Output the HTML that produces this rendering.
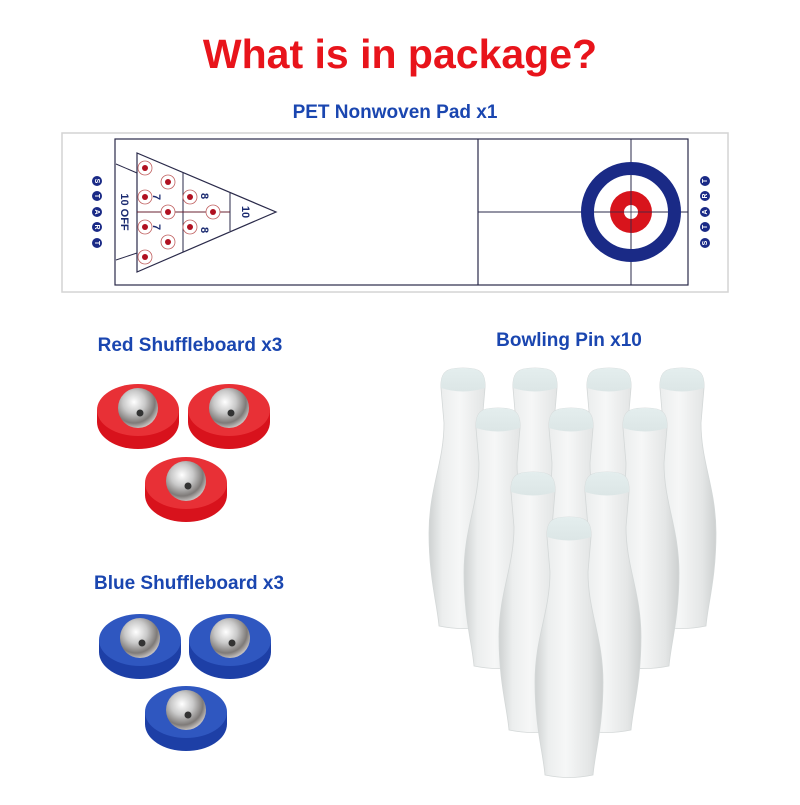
<!DOCTYPE html>
<html><head><meta charset="utf-8"><style>
body{margin:0;width:800px;height:800px;background:#fff;overflow:hidden;font-family:"Liberation Sans",sans-serif}
</style></head><body>
<svg width="800" height="800" viewBox="0 0 800 800" xmlns="http://www.w3.org/2000/svg">
<defs>
<linearGradient id="pg" x1="0" x2="1" y1="0" y2="0">
<stop offset="0" stop-color="#cfd2d2"/><stop offset="0.2" stop-color="#eceeee"/><stop offset="0.45" stop-color="#f6f7f7"/><stop offset="0.8" stop-color="#e4e6e6"/><stop offset="1" stop-color="#cdd0d0"/>
</linearGradient>
<linearGradient id="hg" x1="0" x2="0" y1="0" y2="1">
<stop offset="0" stop-color="#e4eeee"/><stop offset="1" stop-color="#dce6e6"/>
</linearGradient>
<radialGradient id="ball" cx="0.4" cy="0.35" r="0.7">
<stop offset="0" stop-color="#ffffff"/><stop offset="0.4" stop-color="#c9c9c9"/><stop offset="0.75" stop-color="#7e7a78"/><stop offset="1" stop-color="#d8d4d2"/>
</radialGradient>
<g id="pin">
<path d="M-22,20 C-23,2 -14,0 0,0 C14,0 23,2 22,20 L19,55 C19,95 34,120 34,165 C34,210 26,235 24,258 Q0,263 -24,258 C-26,235 -34,210 -34,165 C-34,120 -19,95 -19,55 Z" fill="url(#pg)" stroke="#d4d8d8" stroke-width="0.8"/>
<path d="M-22,20 C-23,2 -14,0 0,0 C14,0 23,2 22,20 Q0,27 -22,20 Z" fill="url(#hg)"/>
</g>
<g id="rp">
<ellipse cx="0" cy="12" rx="41" ry="27" fill="#d8121c"/>
<rect x="-41" y="0" width="82" height="12" fill="#d8121c"/>
<ellipse cx="0" cy="0" rx="41" ry="26" fill="#e83036"/>
<circle cx="0" cy="-2" r="20" fill="url(#ball)"/>
<circle cx="2" cy="3" r="3.5" fill="#333"/>
</g>
<g id="bp">
<ellipse cx="0" cy="12" rx="41" ry="27" fill="#1d3fa6"/>
<rect x="-41" y="0" width="82" height="12" fill="#1d3fa6"/>
<ellipse cx="0" cy="0" rx="41" ry="26" fill="#2f57c0"/>
<circle cx="0" cy="-2" r="20" fill="url(#ball)"/>
<circle cx="2" cy="3" r="3.5" fill="#333"/>
</g>
</defs>

<text x="400" y="68" text-anchor="middle" font-size="41" font-weight="bold" fill="#e8141b">What is in package?</text>
<text x="395" y="118" text-anchor="middle" font-size="19" font-weight="bold" fill="#1a46b0">PET Nonwoven Pad x1</text>

<rect x="62" y="133" width="666" height="159" fill="#fff" stroke="#d4d4d4" stroke-width="1.5"/>
<rect x="115" y="139" width="573" height="146" fill="none" stroke="#2a2a4a" stroke-width="1.2"/>
<line x1="478" y1="139" x2="478" y2="285" stroke="#2a2a4a" stroke-width="1.2"/>
<line x1="478" y1="212" x2="688" y2="212" stroke="#2a2a4a" stroke-width="1"/>
<line x1="631" y1="139" x2="631" y2="285" stroke="#2a2a4a" stroke-width="1"/>
<circle cx="631" cy="212" r="43.5" fill="none" stroke="#1a2a86" stroke-width="13"/>
<circle cx="631" cy="212" r="21" fill="#d8141c"/>
<circle cx="631" cy="212" r="7" fill="#fff"/>
<line x1="610" y1="212" x2="652" y2="212" stroke="#2a2a4a" stroke-width="0.8"/>
<line x1="631" y1="191" x2="631" y2="233" stroke="#2a2a4a" stroke-width="0.8"/>

<polygon points="137,153 137,272 276,212" fill="none" stroke="#2a2a4a" stroke-width="1.2"/>
<line x1="116" y1="164" x2="137" y2="173" stroke="#2a2a4a"/>
<line x1="116" y1="260" x2="137" y2="253" stroke="#2a2a4a"/>
<line x1="183" y1="173" x2="183" y2="252" stroke="#2a2a4a"/>
<line x1="230" y1="193" x2="230" y2="231" stroke="#2a2a4a"/>
<line x1="137" y1="212" x2="230" y2="212" stroke="#6a2030"/>
<g fill="#fff" stroke="#c06060" stroke-width="0.8">
<circle cx="145" cy="168" r="7"/><circle cx="168" cy="182" r="7"/><circle cx="145" cy="197" r="7"/><circle cx="168" cy="212" r="7"/><circle cx="190" cy="197" r="7"/><circle cx="213" cy="212" r="7"/><circle cx="145" cy="227" r="7"/><circle cx="168" cy="242" r="7"/><circle cx="190" cy="227" r="7"/><circle cx="145" cy="257" r="7"/>
</g>
<g fill="#b01020">
<circle cx="145" cy="168" r="3"/><circle cx="168" cy="182" r="3"/><circle cx="145" cy="197" r="3"/><circle cx="168" cy="212" r="3"/><circle cx="190" cy="197" r="3"/><circle cx="213" cy="212" r="3"/><circle cx="145" cy="227" r="3"/><circle cx="168" cy="242" r="3"/><circle cx="190" cy="227" r="3"/><circle cx="145" cy="257" r="3"/>
</g>
<g fill="#1a2a70" font-weight="bold" font-size="11" text-anchor="middle">
<text transform="translate(121,212) rotate(90)">10 OFF</text>
<text transform="translate(153,197) rotate(90)">7</text>
<text transform="translate(153,227) rotate(90)">7</text>
<text transform="translate(201,196) rotate(90)">8</text>
<text transform="translate(201,230) rotate(90)">8</text>
<text transform="translate(242,212) rotate(90)">10</text>
</g>
<g fill="#1a2a86">
<circle cx="97" cy="181" r="5"/><circle cx="97" cy="196" r="5"/><circle cx="97" cy="212" r="5"/><circle cx="97" cy="227" r="5"/><circle cx="97" cy="243" r="5"/>
<circle cx="705" cy="181" r="5"/><circle cx="705" cy="196" r="5"/><circle cx="705" cy="212" r="5"/><circle cx="705" cy="227" r="5"/><circle cx="705" cy="243" r="5"/>
</g>
<g fill="#fff" font-size="7" font-weight="bold" text-anchor="middle">
<text transform="translate(95,181) rotate(90)">S</text><text transform="translate(95,196) rotate(90)">T</text><text transform="translate(95,212) rotate(90)">A</text><text transform="translate(95,227) rotate(90)">R</text><text transform="translate(95,243) rotate(90)">T</text>
<text transform="translate(707,243) rotate(-90)">S</text><text transform="translate(707,227) rotate(-90)">T</text><text transform="translate(707,212) rotate(-90)">A</text><text transform="translate(707,196) rotate(-90)">R</text><text transform="translate(707,181) rotate(-90)">T</text>
</g>

<text x="190" y="351" text-anchor="middle" font-size="19" font-weight="bold" fill="#1a46b0">Red Shuffleboard x3</text>
<text x="569" y="346" text-anchor="middle" font-size="19" font-weight="bold" fill="#1a46b0">Bowling Pin x10</text>
<text x="189" y="589" text-anchor="middle" font-size="19" font-weight="bold" fill="#1a46b0">Blue Shuffleboard x3</text>

<use href="#rp" x="138" y="410"/>
<use href="#rp" x="229" y="410"/>
<use href="#rp" x="186" y="483"/>
<use href="#bp" x="140" y="640"/>
<use href="#bp" x="230" y="640"/>
<use href="#bp" x="186" y="712"/>

<use href="#pin" x="463" y="368"/>
<use href="#pin" x="535" y="368"/>
<use href="#pin" x="609" y="368"/>
<use href="#pin" x="682" y="368"/>
<use href="#pin" x="498" y="408"/>
<use href="#pin" x="571" y="408"/>
<use href="#pin" x="645" y="408"/>
<use href="#pin" x="533" y="472"/>
<use href="#pin" x="607" y="472"/>
<use href="#pin" x="569" y="517"/>
</svg>
</body></html>
